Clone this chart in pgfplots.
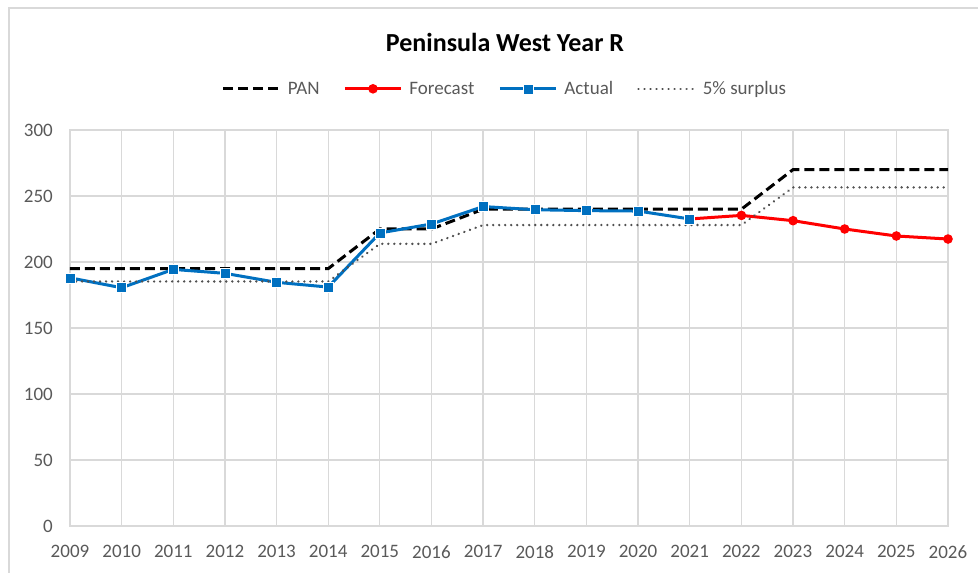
\documentclass[border=0pt]{standalone}
\usepackage{pgfplots}
\pgfplotsset{compat=1.18}
\usepackage{fontspec}
\setmainfont{Carlito}
\definecolor{gridc}{HTML}{D9D9D9}
\definecolor{txtc}{HTML}{595959}
\definecolor{actblue}{HTML}{0070C0}
\definecolor{surpc}{HTML}{505050}
\begin{document}
\begin{tikzpicture}[x=1pt,y=1pt]
\useasboundingbox (0,0) rectangle (978,573);
\draw[gridc, line width=1.5pt] (9,0) -- (9,565) -- (978,565);
\begin{axis}[
  at={(70pt,47pt)}, anchor=south west,
  width=878pt, height=396pt, scale only axis,
  xmin=2009, xmax=2026, ymin=0, ymax=300,
  xtick={2009,...,2026}, ytick={0,50,...,300},
  grid=major, grid style={draw=gridc, line width=1.3pt},
  axis line style={draw=gridc, line width=1.3pt},
  major tick length=0pt,
  tick label style={font=\fontsize{19}{19}\selectfont, text=txtc, inner sep=0pt},
  /pgf/number format/assume math mode=true,
  x tick label style={/pgf/number format/1000 sep={}, yshift=-19pt},
  y tick label style={xshift=-17pt},
  legend columns=4,
  legend style={at={(0.4954,1.104)}, anchor=center, draw=none, fill=none,
    font=\fontsize{19}{19}\selectfont, text=txtc,
    /tikz/every odd column/.append style={column sep=5pt},
    /tikz/every even column/.append style={column sep=22pt},
    inner sep=0pt},
  legend image code/.code={\draw[#1, mark repeat=2, mark phase=2] plot coordinates {(0pt,0pt) (28pt,0pt) (56pt,0pt)};},
]
\addplot[black, line width=3pt, dash pattern=on 10pt off 5pt] coordinates {
(2009,195) (2010,195) (2011,195) (2012,195) (2013,195) (2014,195)
(2015,225) (2016,225) (2017,240) (2018,240) (2019,240) (2020,240)
(2021,240) (2022,240) (2023,270) (2024,270) (2025,270) (2026,270)};
\addlegendentry{PAN}
\addplot[red, line width=3pt, mark=*, mark size=3.2pt, mark options={solid, draw=red, fill=red}] coordinates {
(2021,232.6) (2022,235.3) (2023,231.3) (2024,225.0) (2025,219.7) (2026,217.4)};
\addlegendentry{Forecast}
\addplot[actblue, line width=3pt, mark=square*, mark size=5pt, mark options={solid, draw=white, line width=0.6pt, fill=actblue}] coordinates {
(2009,188.0) (2010,180.5) (2011,194.4) (2012,191.4) (2013,184.6) (2014,181.0)
(2015,222.0) (2016,228.8) (2017,242.0) (2018,239.6) (2019,238.9) (2020,238.6)
(2021,232.6)};
\addlegendentry{Actual}
\addplot[surpc, line width=2.6pt, line cap=round, dash pattern=on 0.01pt off 6pt] coordinates {
(2009,185.25) (2010,185.25) (2011,185.25) (2012,185.25) (2013,185.25) (2014,185.25)
(2015,213.75) (2016,213.75) (2017,228) (2018,228) (2019,228) (2020,228)
(2021,228) (2022,228) (2023,256.5) (2024,256.5) (2025,256.5) (2026,256.5)};
\addlegendentry{5\% surplus}
\end{axis}
\node[font=\fontsize{26}{26}\selectfont\bfseries, text=black] at (505,531) {Peninsula West Year R};
\end{tikzpicture}
\end{document}
